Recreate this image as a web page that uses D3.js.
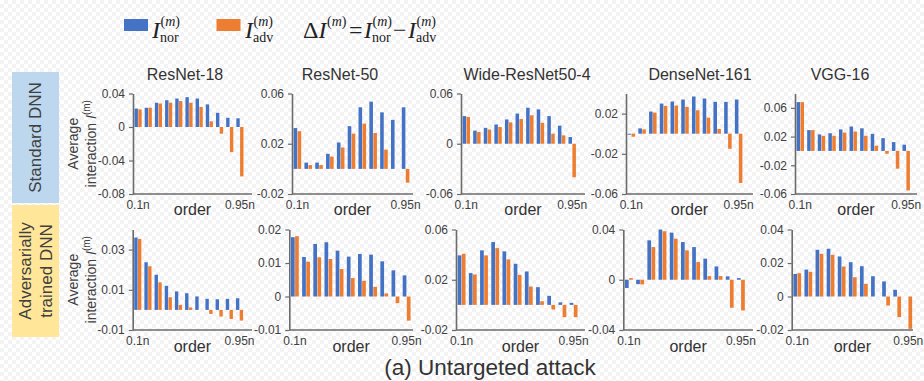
<!DOCTYPE html>
<html>
<head>
<meta charset="utf-8">
<script src="https://cdn.jsdelivr.net/npm/d3@7"></script>
<style>
  html, body { margin: 0; padding: 0; }
  body {
    width: 924px; height: 381px; overflow: hidden;
    background-color: #fff;
    background-image: repeating-conic-gradient(#f3f3f3 0% 25%, #ffffff 0% 50%);
    background-size: 8px 8px;
  }
  svg { display: block; }
</style>
</head>
<body>
<div id="chart"></div>
<script>
// order axis: 11 groups from 0.1n to 0.95n (only the ends are labelled)
const orderTickLabels = ["0.1n", "0.95n"];
const modelNames = ["ResNet-18", "ResNet-50", "Wide-ResNet50-4", "DenseNet-161", "VGG-16"];
const rowNames = [["Standard DNN"], ["Adversarially", "trained DNN"]];

// Standard DNN, I_nor / I_adv
const stdResNet18Nor = [0.022, 0.023, 0.029, 0.032, 0.034, 0.0356, 0.034, 0.027, 0.017, 0.011, 0.0104];
const stdResNet18Adv = [0.021, 0.023, 0.028, 0.029, 0.031, 0.029, 0.024, 0.0068, -0.008, -0.030, -0.059];
const stdResNet50Nor = [0.0325, 0.005, 0.005, 0.012, 0.021, 0.034, 0.049, 0.0535, 0.045, 0.039, 0.049];
const stdResNet50Adv = [0.030, 0.003, 0.003, 0.0098, 0.017, 0.028, 0.036, 0.0286, 0.0153, 0.0, -0.011];
const stdWideNor = [0.033, 0.0157, 0.019, 0.023, 0.029, 0.036, 0.043, 0.041, 0.033, 0.0216, 0.008];
const stdWideAdv = [0.032, 0.014, 0.017, 0.020, 0.0255, 0.0295, 0.034, 0.025, 0.012, 0.010, -0.040];
const stdDenseNor = [-0.001, 0.0053, 0.022, 0.030, 0.032, 0.034, 0.037, 0.035, 0.0317, 0.0317, 0.034];
const stdDenseAdv = [-0.003, 0.0043, 0.021, 0.0277, 0.028, 0.0267, 0.0233, 0.016, 0.0047, -0.015, -0.049];
const stdVggNor = [0.068, 0.029, 0.023, 0.0247, 0.030, 0.034, 0.0315, 0.0238, 0.0178, 0.0123, 0.0087];
const stdVggAdv = [0.068, 0.029, 0.021, 0.021, 0.0256, 0.027, 0.021, 0.0073, -0.004, -0.0247, -0.055];

// Adversarially trained DNN
const advResNet18Nor = [0.036, 0.0237, 0.0175, 0.012, 0.0092, 0.0083, 0.0067, 0.0055, 0.0053, 0.0055, 0.0058];
const advResNet18Adv = [0.0353, 0.0217, 0.0137, 0.0063, 0.0025, 0.0012, 0.0, -0.002, -0.0033, -0.0045, -0.0053];
const advResNet50Nor = [0.0177, 0.0118, 0.0157, 0.0162, 0.0137, 0.0119, 0.0127, 0.0125, 0.0105, 0.0078, 0.0063];
const advResNet50Adv = [0.018, 0.0104, 0.0117, 0.0112, 0.0082, 0.0055, 0.0047, 0.0029, 0.0009, -0.002, -0.0072];
const advWideNor = [0.0394, 0.0253, 0.0434, 0.050, 0.0426, 0.0327, 0.0266, 0.0141, 0.0072, 0.002, 0.0016];
const advWideAdv = [0.0407, 0.0242, 0.0394, 0.0452, 0.0362, 0.0239, 0.0146, 0.0029, -0.0037, -0.0098, -0.0098];
const advDenseNor = [-0.0066, -0.0035, 0.0314, 0.040, 0.0375, 0.030, 0.026, 0.0168, 0.0106, 0.0027, 0.0013];
const advDenseAdv = [0.0013, -0.0037, 0.026, 0.0386, 0.0327, 0.0234, 0.0141, 0.0029, 0.0029, -0.0223, -0.0245];
const advVggNor = [0.0135, 0.0161, 0.0279, 0.0285, 0.0239, 0.0205, 0.0181, 0.0121, 0.009, 0.004, 0.0];
const advVggAdv = [0.0139, 0.0147, 0.0255, 0.0249, 0.0179, 0.0115, 0.0076, 0.0, -0.0054, -0.0123, -0.0193];

// y domains and tick values per panel
const stdDomains = [[-0.08, 0.04], [-0.02, 0.06], [-0.06, 0.06], [-0.06, 0.04], [-0.06, 0.08]];
const stdTicks = [[-0.08, -0.04, 0, 0.04], [-0.02, 0.02, 0.06], [-0.06, 0, 0.06], [-0.06, -0.02, 0.02], [-0.06, -0.02, 0.02, 0.06]];
const advDomains = [[-0.01, 0.04], [-0.01, 0.02], [-0.02, 0.06], [-0.04, 0.04], [-0.02, 0.04]];
const advTicks = [[-0.01, 0.01, 0.03], [-0.01, 0, 0.01, 0.02], [-0.02, 0.02, 0.06], [-0.04, 0, 0.04], [-0.02, 0, 0.02, 0.04]];

const BLUE = "#4472c4";
const ORANGE = "#ed7d31";
const AXIS = "#6b6b6b";
const TEXT = "#404040";
const SANS = "'Liberation Sans', Arial, sans-serif";
const SERIF = "'Liberation Serif', 'Times New Roman', serif";

// panel layout (pixels)
const LAYOUT = [
  {top: 93.5, bottom: 194, titleY: 80, tickY: 209, orderY: 215,
   x0: [133, 292, 461, 626, 795], bandEnd: [245, 411, 577.5, 744, 911.5], axisEnd: [252, 413, 585, 753, 917],
   titleX: [185, 340, 527, 700, 840]},
  {top: 229.5, bottom: 330, titleY: null, tickY: 345, orderY: 352,
   x0: [132.7, 289.3, 456, 623.3, 791.7], bandEnd: [244.6, 412.2, 579.2, 746.5, 913.8], axisEnd: [252, 413, 585, 753, 913]}
];

const rows = [
  {nor: [stdResNet18Nor, stdResNet50Nor, stdWideNor, stdDenseNor, stdVggNor],
   adv: [stdResNet18Adv, stdResNet50Adv, stdWideAdv, stdDenseAdv, stdVggAdv],
   domains: stdDomains, ticks: stdTicks},
  {nor: [advResNet18Nor, advResNet50Nor, advWideNor, advDenseNor, advVggNor],
   adv: [advResNet18Adv, advResNet50Adv, advWideAdv, advDenseAdv, advVggAdv],
   domains: advDomains, ticks: advTicks}
];

const width = 924, height = 381;
const svg = d3.select("#chart").append("svg")
  .attr("width", width)
  .attr("height", height);

// Legend
const legend = svg.append("g").attr("fill", "#222").attr("font-family", SERIF);
legend.append("rect").attr("x", 124).attr("y", 19).attr("width", 24).attr("height", 12).attr("fill", BLUE);
legend.append("rect").attr("x", 216.5).attr("y", 19).attr("width", 24).attr("height", 12).attr("fill", ORANGE);

// I^(m)_sub as tspans (x = left edge of the I)
const mathI = (x, sub) =>
  `<tspan x="${x}" y="38" font-style="italic">I</tspan>` +
  `<tspan x="${x + 8.5}" y="25.5" font-size="14">(<tspan font-style="italic">m</tspan>)</tspan>` +
  `<tspan x="${x + 8}" y="41.5" font-size="14">${sub}</tspan>`;

legend.append("text").attr("font-size", 24).html(mathI(152, "nor"));
legend.append("text").attr("font-size", 24).html(mathI(245, "adv"));
legend.append("text").attr("font-size", 24).html(
  `<tspan x="303" y="38">Δ</tspan><tspan font-style="italic">I</tspan>` +
  `<tspan x="327" y="25.5" font-size="14">(<tspan font-style="italic">m</tspan>)</tspan>` +
  `<tspan x="349" y="38">=</tspan>` +
  mathI(364, "nor") +
  `<tspan x="393" y="38">−</tspan>` +
  mathI(408, "adv"));

// Row labels
const rowBoxes = [
  {y: 72, h: 131, fill: "#bdd7ee", lines: rowNames[0], baseX: [41]},
  {y: 205, h: 132, fill: "#ffe699", lines: rowNames[1], baseX: [30.5, 52]}
];
rowBoxes.forEach(b => {
  svg.append("rect").attr("x", 12).attr("y", b.y).attr("width", 47).attr("height", b.h).attr("fill", b.fill);
  b.lines.forEach((line, i) => {
    svg.append("text")
      .attr("transform", `translate(${b.baseX[i]},${b.y + b.h / 2}) rotate(-90)`)
      .attr("text-anchor", "middle")
      .attr("font-family", SANS)
      .attr("font-size", 17)
      .attr("fill", TEXT)
      .text(line);
  });
});

const fmt = v => v === 0 ? "0" : v.toFixed(2);
const groups = d3.range(11);

rows.forEach((row, r) => {
  const L = LAYOUT[r];
  modelNames.forEach((name, c) => {
    const nor = row.nor[c], adv = row.adv[c];
    const g = svg.append("g");

    const y = d3.scaleLinear().domain(row.domains[c]).range([L.bottom, L.top]);
    const x0 = d3.scaleBand().domain(groups).range([L.x0[c], L.bandEnd[c]])
      .paddingInner(0.3).paddingOuter(0.15);
    const x1 = d3.scaleBand().domain(["nor", "adv"]).range([0, x0.bandwidth()]).paddingInner(0.1);

    const data = groups.map(i => ({i, nor: nor[i], adv: adv[i]}));
    const grp = g.selectAll("g.grp").data(data).join("g")
      .attr("class", "grp")
      .attr("transform", d => `translate(${x0(d.i)},0)`);
    grp.selectAll("rect")
      .data(d => [{k: "nor", v: d.nor}, {k: "adv", v: d.adv}])
      .join("rect")
      .attr("x", d => x1(d.k))
      .attr("width", x1.bandwidth())
      .attr("y", d => y(Math.max(0, d.v)))
      .attr("height", d => Math.abs(y(d.v) - y(0)))
      .attr("fill", d => d.k === "nor" ? BLUE : ORANGE);

    // y axis
    const yAxis = g.append("g")
      .attr("transform", `translate(${L.x0[c]},0)`)
      .call(d3.axisLeft(y).tickValues(row.ticks[c]).tickFormat(fmt).tickSize(4).tickSizeOuter(0).tickPadding(4));
    yAxis.select(".domain").attr("stroke", AXIS).attr("stroke-width", 1.6);
    yAxis.selectAll(".tick line").attr("stroke", AXIS).attr("stroke-width", 1.2);
    yAxis.selectAll(".tick text").attr("font-family", SANS).attr("font-size", 12).attr("fill", TEXT);

    // x axis line at the bottom of the plot
    g.append("line")
      .attr("x1", L.x0[c]).attr("x2", L.axisEnd[c])
      .attr("y1", L.bottom).attr("y2", L.bottom)
      .attr("stroke", AXIS).attr("stroke-width", 1.6);

    // order tick labels at first and last group
    [groups[0], groups[groups.length - 1]].forEach((gi, k) => {
      g.append("text")
        .attr("x", x0(gi) + x0.bandwidth() / 2)
        .attr("y", L.tickY)
        .attr("text-anchor", "middle")
        .attr("font-family", SANS).attr("font-size", 12).attr("fill", TEXT)
        .text(orderTickLabels[k]);
    });

    g.append("text")
      .attr("x", (L.x0[c] + L.axisEnd[c]) / 2)
      .attr("y", L.orderY)
      .attr("text-anchor", "middle")
      .attr("font-family", SANS).attr("font-size", 16).attr("fill", "#333")
      .text("order");

    if (L.titleY) {
      g.append("text")
        .attr("x", L.titleX[c]).attr("y", L.titleY)
        .attr("text-anchor", "middle")
        .attr("font-family", SANS).attr("font-size", 16).attr("fill", "#333")
        .text(name);
    }

    if (c === 0) {
      const cy = (L.top + L.bottom) / 2;
      g.append("text")
        .attr("transform", `translate(78,${cy}) rotate(-90)`)
        .attr("text-anchor", "middle")
        .attr("font-family", SANS).attr("font-size", 14).attr("fill", TEXT)
        .text("Average");
      g.append("text")
        .attr("transform", `translate(96,${cy}) rotate(-90)`)
        .attr("text-anchor", "middle")
        .attr("font-family", SANS).attr("font-size", 14).attr("fill", TEXT)
        .html("interaction <tspan font-style='italic'>I</tspan><tspan font-size='10' dy='-6'>(m)</tspan>");
    }
  });
});

// caption
svg.append("text")
  .attr("x", 490).attr("y", 375)
  .attr("text-anchor", "middle")
  .attr("font-family", SANS).attr("font-size", 22.5).attr("fill", "#333")
  .text("(a) Untargeted attack");
</script>
</body>
</html>
